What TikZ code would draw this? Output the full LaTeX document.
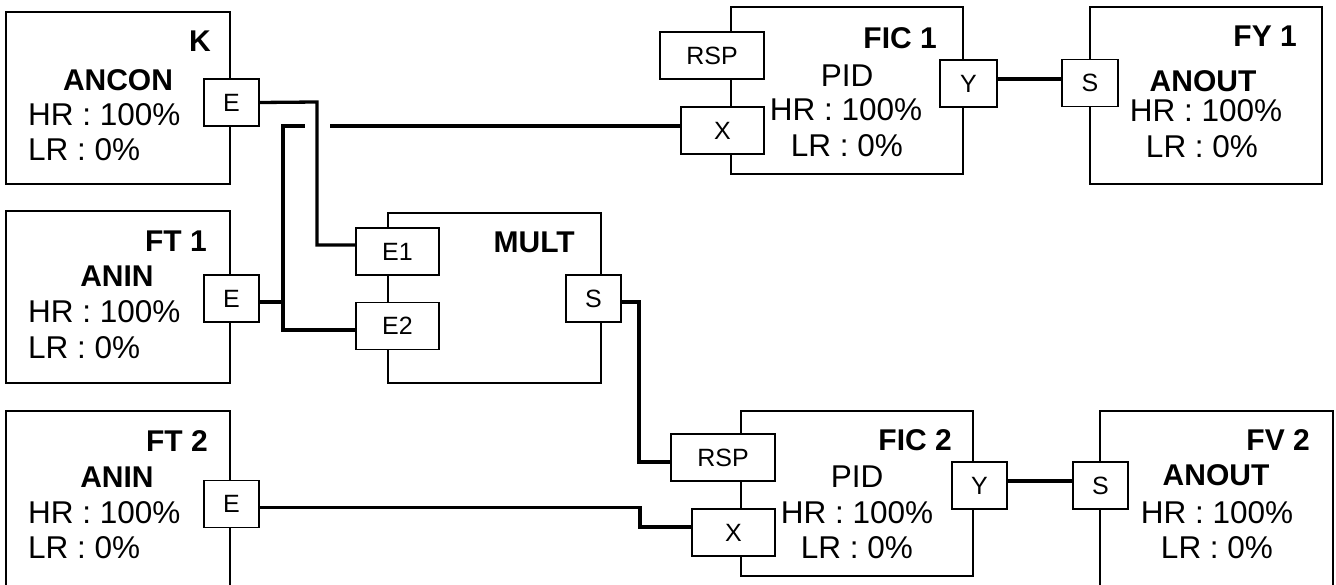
\documentclass[tikz,border=0pt]{standalone}
\usepackage{fontspec}
\setmainfont{Liberation Sans}
\usepackage{tikz}
\usetikzlibrary{positioning}

\begin{document}
\begin{tikzpicture}[x=1pt, y=-1pt]
\tikzset{
  blk/.style={rectangle, draw=black, line width=1.3pt, inner sep=0pt},
  port/.style={rectangle, draw=black, fill=white, line width=1.3pt, inner sep=0pt,
    minimum height=47pt, font=\fontsize{25}{28}\selectfont},
  wire/.style={line width=3.3pt, black},
  ttl/.style={inner sep=0pt, font=\fontsize{30}{34}\selectfont\bfseries},
  txt/.style={inner sep=0pt, font=\fontsize{31.5}{36}\selectfont}
}
\clip (0,0) rectangle (1336,585);
% blocks
\node[blk, minimum width=224pt, minimum height=172pt] (k)    at (118, 98)    {};
\node[blk, minimum width=224pt, minimum height=172pt] (ft1)  at (118, 297)   {};
\node[blk, minimum width=224pt, minimum height=190pt] (ft2)  at (118, 506)   {};
\node[blk, minimum width=213pt, minimum height=170pt] (mult) at (494.5, 298) {};
\node[blk, minimum width=232pt, minimum height=167pt] (fic1) at (847, 90.5)  {};
\node[blk, minimum width=232pt, minimum height=177pt] (fy1)  at (1206, 95.5) {};
\node[blk, minimum width=232pt, minimum height=165pt] (fic2) at (857, 493.5) {};
\node[blk, minimum width=233pt, minimum height=190pt] (fv2)  at (1216.5, 506) {};
% block texts
\node[ttl, anchor=base east] (kT)    at (211, 52)  {K};
\node[ttl, anchor=base]      (kN)    at (118, 91)  {ANCON};
\node[txt, anchor=base west] (kH)    at (28, 126)  {HR : 100\%};
\node[txt, anchor=base west] (kL)    at (28, 161)  {LR : 0\%};
\node[ttl, anchor=base east] (ft1T)  at (207, 252) {FT 1};
\node[ttl, anchor=base]      (ft1N)  at (117, 287) {ANIN};
\node[txt, anchor=base west] (ft1H)  at (28, 323)  {HR : 100\%};
\node[txt, anchor=base west] (ft1L)  at (28, 358)  {LR : 0\%};
\node[ttl, anchor=base east] (ft2T)  at (208, 451) {FT 2};
\node[ttl, anchor=base]      (ft2N)  at (117, 487) {ANIN};
\node[txt, anchor=base west] (ft2H)  at (28, 523)  {HR : 100\%};
\node[txt, anchor=base west] (ft2L)  at (28, 558)  {LR : 0\%};
\node[ttl, anchor=base east] (multT) at (575, 253) {MULT};
\node[ttl, anchor=base east] (fic1T) at (937, 49)  {FIC 1};
\node[txt, anchor=base]      (fic1N) at (847, 87)  {PID};
\node[txt, anchor=base]      (fic1H) at (846, 121) {HR : 100\%};
\node[txt, anchor=base]      (fic1L) at (847, 157) {LR : 0\%};
\node[ttl, anchor=base east] (fy1T)  at (1297, 47) {FY 1};
\node[ttl, anchor=base]      (fy1N)  at (1203, 92) {ANOUT};
\node[txt, anchor=base]      (fy1H)  at (1206, 122) {HR : 100\%};
\node[txt, anchor=base]      (fy1L)  at (1202, 158) {LR : 0\%};
\node[ttl, anchor=base east] (fic2T) at (952, 450) {FIC 2};
\node[txt, anchor=base]      (fic2N) at (857, 487) {PID};
\node[txt, anchor=base]      (fic2H) at (857, 523) {HR : 100\%};
\node[txt, anchor=base]      (fic2L) at (857, 558) {LR : 0\%};
\node[ttl, anchor=base east] (fv2T)  at (1310, 450) {FV 2};
\node[ttl, anchor=base]      (fv2N)  at (1216, 485) {ANOUT};
\node[txt, anchor=base]      (fv2H)  at (1217, 523) {HR : 100\%};
\node[txt, anchor=base]      (fv2L)  at (1217, 558) {LR : 0\%};
% ports
\node[port, minimum width=55pt]  (kE)      at (231.5, 102.5) {E};
\node[port, minimum width=55pt]  (ft1E)    at (231.5, 298.5) {E};
\node[port, minimum width=55pt]  (ft2E)    at (231.5, 504)   {E};
\node[port, minimum width=83pt]  (multE1)  at (397.5, 251.5) {E1};
\node[port, minimum width=83pt]  (multE2)  at (397.5, 326)   {E2};
\node[port, minimum width=55pt]  (multS)   at (593.5, 298.5) {S};
\node[port, minimum width=104pt] (fic1RSP) at (712, 55.5)    {RSP};
\node[port, minimum width=83pt]  (fic1X)   at (722.5, 130.5) {X};
\node[port, minimum width=57pt]  (fic1Y)   at (968.5, 83.5)  {Y};
\node[port, minimum width=56pt]  (fy1S)    at (1090, 83)     {S};
\node[port, minimum width=104pt] (fic2RSP) at (723, 457.5)   {RSP};
\node[port, minimum width=83pt]  (fic2X)   at (733.5, 532.5) {X};
\node[port, minimum width=55pt]  (fic2Y)   at (979.5, 485.5) {Y};
\node[port, minimum width=55pt]  (fv2S)    at (1100.5, 485.5) {S};
% wires
\coordinate (hopL) at (305, 126);
\coordinate (hopR) at (330, 126);
\draw[wire] (kE.east) -- (317, 102) |- ([yshift=6.5pt]multE1.west);
\draw[wire] ([yshift=-3.5pt]ft1E.east) -- (283, 302) coordinate (j1) |- (hopL);
\draw[wire] (j1) |- ([yshift=-4pt]multE2.west);
\draw[wire] (hopR) -- ([yshift=4.5pt]fic1X.west);
\draw[wire] ([yshift=-3.5pt]multS.east) -- (639, 302) |- ([yshift=-4.5pt]fic2RSP.west);
\draw[wire] ([yshift=-3.5pt]ft2E.east) -- (640, 507.5) |- ([yshift=5.5pt]fic2X.west);
\draw[wire] ([yshift=4.5pt]fic1Y.east) -- ([yshift=4pt]fy1S.west);
\draw[wire] ([yshift=4.5pt]fic2Y.east) -- ([yshift=4.5pt]fv2S.west);
\end{tikzpicture}
\end{document}
